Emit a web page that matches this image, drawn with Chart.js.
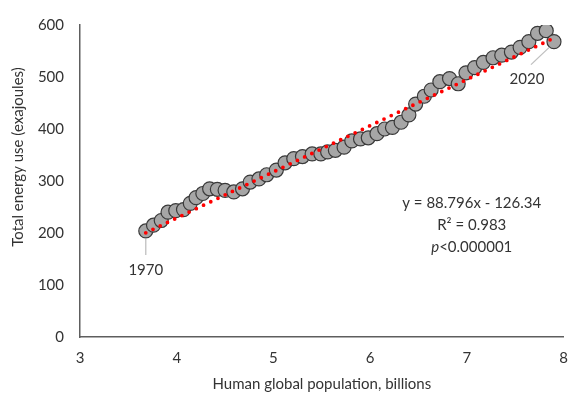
<!DOCTYPE html>
<html>
<head>
<meta charset="utf-8">
<script src="https://cdn.jsdelivr.net/npm/chart.js@4.4.1/dist/chart.umd.min.js"></script>
<style>
  html, body { margin: 0; padding: 0; background: #ffffff; }
  #wrap { width: 580px; height: 407px; position: relative; }
</style>
</head>
<body>
<div id="wrap"><canvas id="c" width="580" height="407"></canvas></div>
<script>
// ---- data ----
const years = [1970,1971,1972,1973,1974,1975,1976,1977,1978,1979,
  1980,1981,1982,1983,1984,1985,1986,1987,1988,1989,
  1990,1991,1992,1993,1994,1995,1996,1997,1998,1999,
  2000,2001,2002,2003,2004,2005,2006,2007,2008,2009,
  2010,2011,2012,2013,2014,2015,2016,2017,2018,2019,2020];
const population = [3.68,3.76,3.84,3.91,3.99,4.07,4.14,4.20,4.27,4.34,
  4.42,4.50,4.59,4.68,4.76,4.85,4.93,5.03,5.12,5.21,
  5.30,5.40,5.49,5.56,5.64,5.73,5.81,5.90,5.98,6.07,
  6.15,6.23,6.32,6.40,6.47,6.56,6.63,6.72,6.82,6.91,
  6.99,7.08,7.17,7.27,7.36,7.46,7.55,7.64,7.73,7.82,7.90];
const energy = [204,215,224,240,243,245,257,268,276,285,
  284,282,279,285,298,304,312,321,335,343,
  347,352,352,356,359,365,377,381,383,391,
  400,403,413,427,448,463,475,491,497,487,
  508,518,528,537,542,548,557,568,584,589,568];
const trendSlope = 88.796;
const trendIntercept = -126.34;
const xTicks = [3,4,5,6,7,8];
const yTicks = [0,100,200,300,400,500,600];
const labelledYears = [1970, 2020];
const equationLines = ["y = 88.796x - 126.34", "R² = 0.983", "p<0.000001"];
const xTitle = "Human global population, billions";
const yTitle = "Total energy use (exajoules)";

const FONT = "Lato, 'Open Sans', sans-serif";
const TEXT = "#333333";

const points = population.map((p, i) => ({ x: p, y: energy[i] }));
const pMin = Math.min(...population), pMax = Math.max(...population);
const trend = [
  { x: pMin, y: trendSlope * pMin + trendIntercept },
  { x: pMax, y: trendSlope * pMax + trendIntercept }
];

const annot = {
  id: 'annot',
  afterDraw(chart) {
    const ctx = chart.ctx;
    const xs = chart.scales.x, ys = chart.scales.y;
    ctx.save();
    // year call-outs
    labelledYears.forEach(yr => {
      const i = years.indexOf(yr);
      const px = xs.getPixelForValue(population[i]);
      const py = ys.getPixelForValue(energy[i]);
      ctx.strokeStyle = '#bfbfbf';
      ctx.lineWidth = 1.3;
      ctx.beginPath();
      let tx, ty;
      if (yr === 1970) {
        ctx.moveTo(px, py + 8); ctx.lineTo(px, py + 24);
        tx = px; ty = py + 39;
      } else {
        ctx.moveTo(px - 5, py + 6); ctx.lineTo(px - 23, py + 23);
        tx = px - 27; ty = py + 38;
      }
      ctx.stroke();
      ctx.fillStyle = TEXT;
      ctx.font = "15px " + FONT;
      ctx.textAlign = 'center';
      ctx.textBaseline = 'middle';
      ctx.fillText(String(yr), tx, ty);
    });
    // regression text
    const cx = chart.chartArea.left + (chart.chartArea.right - chart.chartArea.left) * 0.81;
    const cy0 = 203;
    ctx.fillStyle = TEXT;
    ctx.textBaseline = 'middle';
    ctx.textAlign = 'center';
    ctx.font = "15px " + FONT;
    ctx.fillText(equationLines[0], cx, cy0);
    ctx.fillText(equationLines[1], cx, cy0 + 22);
    // third line: italic p
    const italicP = equationLines[2].charAt(0);
    const rest = equationLines[2].slice(1);
    ctx.font = "italic 15px " + FONT;
    const w1 = ctx.measureText(italicP).width;
    ctx.font = "15px " + FONT;
    const w2 = ctx.measureText(rest).width;
    const start = cx - (w1 + w2) / 2;
    ctx.textAlign = 'left';
    ctx.font = "italic 15px " + FONT;
    ctx.fillText(italicP, start, cy0 + 44);
    ctx.font = "15px " + FONT;
    ctx.fillText(rest, start + w1, cy0 + 44);
    // y-axis title
    ctx.translate(18, 157);
    ctx.rotate(-Math.PI / 2);
    ctx.textAlign = 'center';
    ctx.font = "15px " + FONT;
    ctx.fillText(yTitle, 0, 0);
    ctx.restore();
  }
};

new Chart(document.getElementById('c'), {
  type: 'scatter',
  data: {
    datasets: [
      {
        type: 'line',
        data: trend,
        borderColor: '#ff0000',
        borderWidth: 3.8,
        borderDash: [0, 8],
        borderCapStyle: 'round',
        pointRadius: 0,
        fill: false,
        order: 0
      },
      {
        data: points,
        backgroundColor: '#a6a6a6',
        borderColor: '#3a3a3a',
        borderWidth: 1.2,
        pointRadius: 7,
        order: 1
      }
    ]
  },
  plugins: [annot],
  options: {
    responsive: false,
    animation: false,
    events: [],
    layout: { padding: { top: 19, right: 14, left: 0, bottom: 0 } },
    plugins: { legend: { display: false }, tooltip: { enabled: false } },
    scales: {
      x: {
        type: 'linear',
        min: 3, max: 8,
        afterBuildTicks: s => { s.ticks = xTicks.map(v => ({ value: v })); },
        afterFit: s => { s.height = 70; },
        grid: { display: false, drawTicks: false },
        border: { display: true, color: '#5e5e5e', width: 1.5 },
        ticks: { color: TEXT, font: { family: FONT, size: 15 }, padding: 12, maxRotation: 0 },
        title: { display: true, text: xTitle, color: TEXT, font: { family: FONT, size: 15 }, padding: { top: 4, bottom: 14 } }
      },
      y: {
        type: 'linear',
        min: 0, max: 600,
        afterBuildTicks: s => { s.ticks = yTicks.map(v => ({ value: v })); },
        afterFit: s => { s.width = 80; },
        grid: { display: false, drawTicks: false },
        border: { display: true, color: '#5e5e5e', width: 1.5 },
        ticks: { color: TEXT, font: { family: FONT, size: 15 }, padding: 16 }
      }
    }
  }
});
</script>
</body>
</html>
